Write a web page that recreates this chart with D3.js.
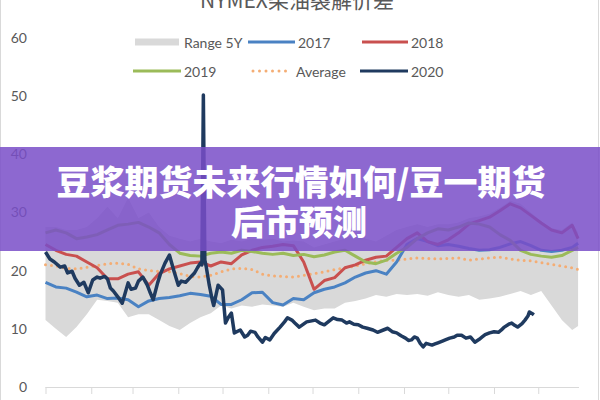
<!DOCTYPE html>
<html><head><meta charset="utf-8">
<script src="https://cdn.jsdelivr.net/npm/d3@7"></script>
<style>body{margin:0;background:#fff}svg{display:block}</style>
</head><body>
<svg id="c" width="600" height="400"></svg>
<script>
const title = "NYMEX柴油裂解价差";
const bannerLines = ["豆浆期货未来行情如何/豆一期货", "后市预测"];
const monthStarts = [0,31,59,90,120,151,181,212,243,273,304,334];
const yTicks = [0,10,20,30,40,50,60];
const seriesNames = ["Range 5Y","2017","2018","2019","Average","2020"];

const weekDays = [0,7,14,21,28,35,42,49,56,63,70,77,84,91,98,105,112,119,126,133,140,147,154,161,168,175,182,189,196,203,210,217,224,231,238,245,252,259,266,273,280,287,294,301,308,315,322,329,336,343,350,357,361];
const range5yLow = [11.5,10,8.6,10.3,12.5,15,14.8,14.5,12,12.5, 12.5,11.5,10.5,9.8,11,12,12.7,14,13.5,14, 13.8,14.2,14,13.8,14.5,13.8,13.2,13.5,13.5,14.5, 14.8,15.2,15.8,15.5,16,15.8,16,15.7,16.3,15.8, 15.5,15.8,15,15.2,15.5,16,16.5,15.8,16.5,14, 11.5,9.8,10.5];
const range5yHigh = [27.5,27.5,27,27,27.5,29,31,29,32.5,29, 30,27.5,26,25.5,25,25.5,25,24.7,25.3,25, 25.5,25.3,25.5,25,25.2,25,24,24.5,25,25.5, 26.5,25.5,25,26,27,27.5,28,27.5,28,28, 28.3,29,29.3,29.8,30.8,32,31.5,30,28.5,27.3, 27,28.3,26.5];
const s2017 = [18,17.2,17,16.3,15.5,15.8,15.2,15.3,15,13.8, 14.8,15.2,15.4,15.7,16.1,15.9,15.6,14.2,14.2,15, 16.2,16.3,14.5,14.1,15.2,15,16.2,16.8,17.2,17.9, 18.9,19.6,20,19.4,21.5,24.5,25.5,25,24.3,24.5, 24.2,23.8,23.5,23.6,24,24.6,25,24.3,23.5,23.3, 23.5,24,24.7];
const s2018 = [24.5,23.5,22.8,22.5,21.5,20.5,18.6,18.6,19.4,19.8, 17.5,19.5,20.3,20.8,21.3,21.5,20.8,21.5,21.2,22.7, 23.5,24,24.2,24.5,24.3,21.5,16.8,18.3,18.8,20.5, 21,21.8,22.3,22.5,24,25.5,26.5,25,24.5,25.3, 26.5,28,28.6,29.2,30.3,31.5,30.8,29.5,28.2,27, 26.5,27.8,25.5];
const s2019 = [26.5,27,26.5,25.5,25.8,26.2,27,27.8,28,28.3, 27.5,26.5,24.5,23,22.6,22.5,23,23.2,23,23.5, 23.3,23,22.8,23,22.6,22.8,22.4,22.7,23.2,23.5, 22.5,21.5,21.2,21.8,23,24,25.5,26.5,27.2,27, 27.5,28.2,28,27.5,26.2,25.2,23.5,22.8,22.5,22.3, 22.6,23.5,24];
const sAverage = [21,20.8,20.4,20.3,20.6,20.9,21.2,21.3,21.1,20.3, 20,19.9,19.8,19.5,19,18.9,19.2,19.8,20.3,20.4, 20.2,19.4,19.1,19,18.9,19.2,19.5,19.8,20.2,20.5, 20.8,21.2,21.5,21.8,21.8,22,22.2,22.1,22,22.1, 22.2,21.8,22,22.2,22.3,22,21.8,21.7,21.4,21.1, 20.8,20.5,20.2];
const days2020 = [0,3,6,10,13,15,18,20,23,26,29,32,35,37,40,42,44,46,49,52,56,58,61,63,66,69,71,73,76,78,81,84,87,90,92,95,98,101,103,105,106,107,108,109,111,113,114,117,120,122,124,126,128,132,135,137,139,142,144,147,149,152,155,159,162,164,167,169,172,177,183,186,189,192,195,198,201,204,206,209,212,215,218,222,225,229,232,235,238,241,244,246,248,250,252,254,256,258,262,264,266,269,271,274,277,279,282,285,288,290,291,294,296,298,301,304,307,309,311,314,316,318,320,323,325,327,328,330,331];
const s2020 = [23.2,22.0,21.5,20.6,20.8,19.6,19.9,18.7,17.5,18.0,16.2,18.4,18.9,18.7,19.0,18.6,17.0,16.5,15.5,14.4,17.9,16.8,17.0,18.2,18.9,17.5,16.2,15.0,17.9,19.5,21.3,22.7,20.0,17.5,18.2,18.0,18.8,19.6,20.5,21.3,21.0,50.2,21.8,20.6,17.5,15.0,14.0,17.5,16.7,11.0,12.0,12.7,9.3,9.8,8.6,8.9,9.6,9.4,8.6,7.7,8.5,8.1,9.2,10.3,11.2,11.9,11.5,11.0,10.3,11.2,11.5,11.0,10.7,11.3,11.9,11.6,11.5,11.0,11.2,10.8,10.7,10.3,10.1,9.8,9.4,9.8,10.1,9.5,9.3,8.8,8.4,8.0,8.1,8.6,8.4,7.5,6.9,7.5,7.2,7.4,7.6,7.9,8.1,8.4,8.6,8.9,8.9,8.4,8.6,8.0,7.7,8.2,8.6,9.0,9.3,9.5,9.4,9.8,10.3,10.8,11.0,10.6,10.3,10.9,11.5,12.2,12.9,12.6,12.4];

const colors = {range:"#d9d9d9", y2017:"#4a82c3", y2018:"#c9504f", y2019:"#9bbb59", avg:"#f4ad74", y2020:"#1f3a5f"};
const txt = "#595959";

const svg = d3.select("#c");
const x = d3.scaleLinear().domain([0,365]).range([45.5,584]);
const y = d3.scaleLinear().domain([0,60]).range([387,38]);

// frame
svg.append("rect").attr("x",0.5).attr("y",-5).attr("width",598).attr("height",410)
  .attr("fill","none").attr("stroke","#d9d9d9");

// title
svg.append("text").attr("x",297).attr("y",8).attr("text-anchor","middle")
  .attr("font-family","'Noto Sans CJK SC', Lato, sans-serif").attr("font-size",21)
  .attr("fill",txt).text(title);

// y axis labels
const yAxis = d3.axisLeft(y).tickValues(yTicks).tickSize(0).tickPadding(18);
const gy = svg.append("g").attr("transform","translate(45,0)").call(yAxis);
gy.select(".domain").remove();
gy.selectAll("text").attr("font-family","Lato, sans-serif").attr("font-size",14).attr("fill",txt);

// x axis
const xAxis = d3.axisBottom(x).tickValues(monthStarts).tickSize(7).tickFormat("");
const gx = svg.append("g").attr("transform","translate(0,387)").call(xAxis);
gx.select(".domain").attr("d","M45.5,0.5H579").attr("stroke","#d9d9d9");
gx.selectAll(".tick line").attr("stroke","#d9d9d9");

// range area
const area = d3.area().x((d,i)=>x(weekDays[i])).y0((d,i)=>y(range5yLow[i])).y1((d,i)=>y(range5yHigh[i]));
svg.append("path").datum(weekDays).attr("d",area).attr("fill",colors.range);

const wline = arr => d3.line().x((d,i)=>x(weekDays[i])).y(d=>y(d))(arr);
svg.append("path").attr("d",wline(sAverage)).attr("fill","none").attr("stroke",colors.avg)
  .attr("stroke-width",3).attr("stroke-dasharray","0,6").attr("stroke-linecap","round");
[[s2017,colors.y2017],[s2018,colors.y2018],[s2019,colors.y2019]].forEach(([arr,c])=>{
  svg.append("path").attr("d",wline(arr)).attr("fill","none").attr("stroke",c)
    .attr("stroke-width",3).attr("stroke-linejoin","round");
});
const line2020 = d3.line().x((d,i)=>x(days2020[i])).y(d=>y(d));
svg.append("path").attr("d",line2020(s2020)).attr("fill","none").attr("stroke",colors.y2020)
  .attr("stroke-width",3.5).attr("stroke-linejoin","round");

// legend
const lg = svg.append("g").attr("font-family","Lato, sans-serif").attr("font-size",14).attr("fill",txt);
const legendItems = [
  {name:seriesNames[0], type:"rect", x0:135, x1:179, tx:184, yy:42, c:colors.range},
  {name:seriesNames[1], type:"line", x0:248, x1:295, tx:298, yy:42, c:colors.y2017},
  {name:seriesNames[2], type:"line", x0:362, x1:408, tx:411, yy:42, c:colors.y2018},
  {name:seriesNames[3], type:"line", x0:133, x1:181, tx:184, yy:71, c:colors.y2019},
  {name:seriesNames[4], type:"dot", x0:253, x1:290, tx:296, yy:71, c:colors.avg},
  {name:seriesNames[5], type:"line", x0:360, x1:408, tx:411, yy:71, c:colors.y2020}
];
legendItems.forEach(it=>{
  if(it.type==="rect"){
    lg.append("rect").attr("x",it.x0).attr("y",it.yy-3.5).attr("width",it.x1-it.x0).attr("height",7).attr("fill",it.c);
  } else {
    const l = lg.append("line").attr("x1",it.x0).attr("x2",it.x1).attr("y1",it.yy).attr("y2",it.yy)
      .attr("stroke",it.c).attr("stroke-width",3);
    if(it.type==="dot") l.attr("stroke-dasharray","0,6.5").attr("stroke-linecap","round");
  }
  lg.append("text").attr("x",it.tx).attr("y",it.yy).attr("dominant-baseline","central").text(it.name);
});

// banner
svg.append("rect").attr("x",0).attr("y",147).attr("width",600).attr("height",104)
  .attr("fill","rgb(121,78,200)").attr("fill-opacity",0.85);
const bt = svg.append("g").attr("font-family","'Noto Sans CJK SC', sans-serif").attr("font-weight",900)
  .attr("font-size",34).attr("fill","#fff").attr("text-anchor","middle");
bt.append("text").attr("x",301).attr("y",180).attr("dominant-baseline","central").text(bannerLines[0]);
bt.append("text").attr("x",299).attr("y",220).attr("dominant-baseline","central").text(bannerLines[1]);
</script>
</body></html>
